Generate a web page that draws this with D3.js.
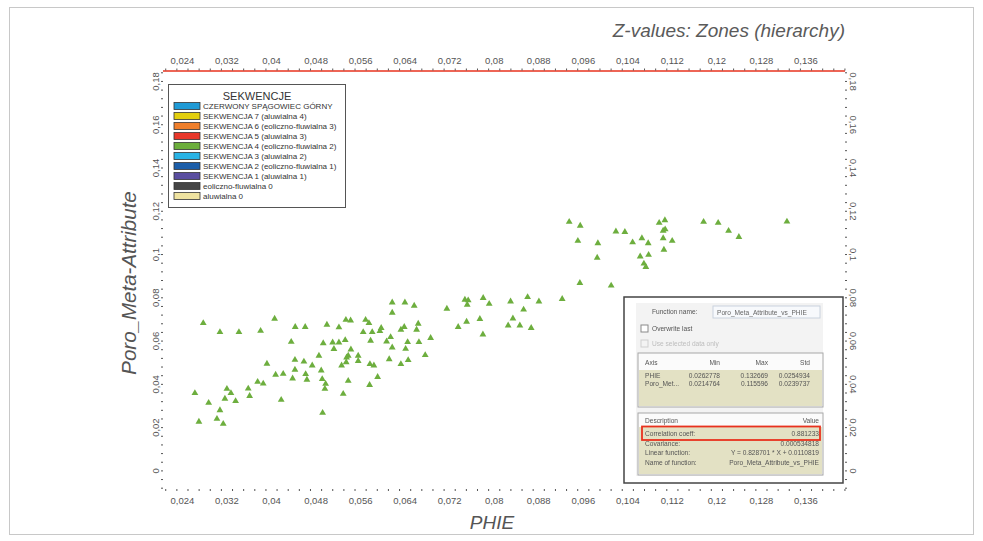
<!DOCTYPE html>
<html>
<head>
<meta charset="utf-8">
<script src="https://cdn.jsdelivr.net/npm/d3@7"></script>
<style>
  body { margin: 0; background: #fff; }
  text { font-family: "Liberation Sans", Arial, sans-serif; }
</style>
</head>
<body>
<svg id="chart" width="983" height="541"></svg>
<script>
// ---- data: PHIE vs Poro_Meta-Attribute (samples of SEKWENCJA 4) ----
const phie = [
  0.02783,0.03083,0.03424,0.03813,0.04065,0.04435,0.04614,0.05004,0.05220,0.05345,
  0.05430,0.04363,0.04938,0.05107,0.05220,0.05333,0.05130,0.05435,0.04861,0.05387,
  0.05358,0.05566,0.04430,0.04591,0.04740,0.05351,0.05566,0.05268,0.03927,0.04430,
  0.04902,0.04083,0.04219,0.04622,0.04388,0.04645,0.04920,0.04981,0.05387,0.04968,
  0.03760,0.03860,0.03591,0.03208,0.03280,0.02633,0.03616,0.03172,0.03364,0.02880,
  0.04183,0.05297,0.03083,0.04927,0.02705,0.03029,0.03142,
  0.09548,0.09230,0.08812,0.08609,0.08303,0.08537,0.08345,0.08260,0.08470,0.08673,
  0.07919,0.07811,0.07483,0.07542,0.07524,0.07159,0.07752,0.07513,0.07362,0.07806,
  0.06177,0.06405,0.06572,0.06177,0.05699,0.05759,0.05979,0.05956,0.05818,0.05656,
  0.06393,0.06333,0.06644,0.06615,0.06148,0.06076,0.05789,0.06177,0.06454,0.06657,
  0.06867,0.06418,0.06123,0.06464,0.06770,0.06333,0.05777,0.05848,0.05915,0.05771,
  0.09356,0.09554,0.09512,0.09871,0.09859,0.10195,0.10356,0.10495,0.10662,0.10775,
  0.10972,0.11075,0.11080,0.11044,0.11044,0.11206,0.11057,0.10631,0.10782,0.10698,
  0.10733,0.11770,0.12032,0.12219,0.12404,0.13267,0.10110
];
const poro = [
  0.0681,0.0639,0.0639,0.0645,0.0701,0.0663,0.0663,0.0673,0.0661,0.0696,
  0.0693,0.0594,0.0588,0.0591,0.0591,0.0602,0.0561,0.0559,0.0530,0.0530,
  0.0522,0.0530,0.0511,0.0503,0.0485,0.0500,0.0506,0.0485,0.0493,0.0465,
  0.0462,0.0442,0.0446,0.0445,0.0425,0.0419,0.0422,0.0400,0.0414,0.0377,
  0.0409,0.0401,0.0378,0.0377,0.0357,0.0357,0.0344,0.0331,0.0320,0.0312,
  0.0326,0.0354,0.0278,0.0266,0.0225,0.0238,0.0215,
  0.0866,0.0792,0.0781,0.0801,0.0781,0.0743,0.0702,0.0670,0.0670,0.0658,
  0.0770,0.0797,0.0789,0.0786,0.0766,0.0747,0.0700,0.0687,0.0663,0.0628,
  0.0776,0.0776,0.0761,0.0729,0.0696,0.0681,0.0658,0.0644,0.0639,0.0639,
  0.0663,0.0650,0.0678,0.0650,0.0616,0.0596,0.0599,0.0568,0.0593,0.0593,
  0.0612,0.0562,0.0514,0.0510,0.0533,0.0491,0.0491,0.0485,0.0432,0.0395,
  0.1149,0.1131,0.1061,0.1050,0.0983,0.1104,0.1102,0.1054,0.1073,0.1050,
  0.1144,0.1156,0.1114,0.1108,0.1073,0.1061,0.1020,0.0989,0.0996,0.0956,
  0.0940,0.1149,0.1144,0.1107,0.1079,0.1150,0.0854
];

const xTicks = [0.024,0.032,0.04,0.048,0.056,0.064,0.072,0.08,0.088,0.096,0.104,0.112,0.12,0.128,0.136];
const yTicks = [0,0.02,0.04,0.06,0.08,0.1,0.12,0.14,0.16,0.18];
const xDomain = [0.0206, 0.1431];
const yDomain = [-0.0086, 0.1846];

const legendTitle = "SEKWENCJE";
const legendLabels = [
  "CZERWONY SPĄGOWIEC GÓRNY",
  "SEKWENCJA 7 (aluwialna 4)",
  "SEKWENCJA 6 (eoliczno-fluwialna 3)",
  "SEKWENCJA 5 (aluwialna 3)",
  "SEKWENCJA 4 (eoliczno-fluwialna 2)",
  "SEKWENCJA 3 (aluwialna 2)",
  "SEKWENCJA 2 (eoliczno-fluwialna 1)",
  "SEKWENCJA 1 (aluwialna 1)",
  "eoliczno-fluwialna 0",
  "aluwialna 0"
];
const legendColors = ["#1f9ad6","#e3cf0e","#ef7f2c","#e8382b","#6cae3c","#29b3e5","#1c5ea9","#5a4ea0","#454545","#efe3a0"];

// statistics panel of the linear fit
const fitName = "Poro_Meta_Attribute_vs_PHIE";
const statHeader = ["Axis","Min","Max","Std"];
const statAxis = ["PHIE","Poro_Met..."];
const statMin = ["0.0262778","0.0214764"];
const statMax = ["0.132669","0.115596"];
const statStd = ["0.0254934","0.0239737"];
const fitLabels = ["Correlation coeff:","Covariance:","Linear function:","Name of function:"];
const fitValues = ["0.881233","0.000534818","Y = 0.828701 * X + 0.0110819","Poro_Meta_Attribute_vs_PHIE"];

// ---- layout ----
const svg = d3.select("#chart");
const plot = {left: 163, right: 845, top: 71, bottom: 489};

const x = d3.scaleLinear().domain(xDomain).range([plot.left, plot.right]);
const y = d3.scaleLinear().domain(yDomain).range([plot.bottom, plot.top]);
const fmt = v => d3.format("~g")(v).replace(".", ",");

const defs = svg.append("defs");
defs.append("filter").attr("id","soft")
  .append("feGaussianBlur").attr("stdDeviation",0.35);

// outer frame
svg.append("rect").attr("x",9.5).attr("y",7.5).attr("width",964).attr("height",527)
  .attr("fill","none").attr("stroke","#c8c8c8").attr("stroke-width",1);

// title
svg.append("text").attr("x",845).attr("y",37).attr("text-anchor","end")
  .attr("font-size",19).attr("font-style","italic").attr("fill","#5a5a5a")
  .text("Z-values: Zones (hierarchy)");

// top red axis line
svg.append("line").attr("x1",plot.left).attr("x2",plot.right)
  .attr("y1",plot.top).attr("y2",plot.top)
  .attr("stroke","#e8321e").attr("stroke-width",1.6);

// minor tick dots
const xMinor = d3.range(0.021, 0.1431, 0.002);
const yMinor = d3.range(-0.008, 0.1846, 0.004);
function styleMinor(g) {
  g.select(".domain").remove();
  g.selectAll(".tick line").attr("stroke","#555").attr("stroke-width",1);
  g.selectAll(".tick text").remove();
}
svg.append("g").attr("transform",`translate(0,${plot.bottom})`)
  .call(d3.axisBottom(x).tickValues(xMinor).tickSize(2)).call(styleMinor);
svg.append("g").attr("transform",`translate(0,${plot.top - 0.5})`)
  .call(d3.axisTop(x).tickValues(xMinor).tickSize(2)).call(styleMinor);
svg.append("g").attr("transform",`translate(${plot.left},0)`)
  .call(d3.axisLeft(y).tickValues(yMinor).tickSize(2)).call(styleMinor);
svg.append("g").attr("transform",`translate(${plot.right},0)`)
  .call(d3.axisRight(y).tickValues(yMinor).tickSize(2)).call(styleMinor);

// labelled axes
function styleLabels(g) {
  g.select(".domain").remove();
  g.selectAll(".tick line").remove();
  g.selectAll(".tick text").attr("fill","#555").attr("font-size",9.5)
    .attr("font-family","Liberation Sans, Arial, sans-serif");
}
svg.append("g").attr("transform",`translate(0,${plot.bottom})`)
  .call(d3.axisBottom(x).tickValues(xTicks).tickSize(0).tickPadding(8).tickFormat(fmt))
  .call(styleLabels);
svg.append("g").attr("transform",`translate(0,${plot.top})`)
  .call(d3.axisTop(x).tickValues(xTicks).tickSize(0).tickPadding(7).tickFormat(fmt))
  .call(styleLabels);
svg.append("g").attr("transform",`translate(${plot.left},0)`)
  .call(d3.axisLeft(y).tickValues(yTicks).tickSize(0).tickFormat(fmt))
  .call(styleLabels)
  .call(g => g.selectAll(".tick text")
    .attr("x",null).attr("dy",null).attr("text-anchor","middle")
    .attr("transform","translate(-4.5,0) rotate(-90)"));
svg.append("g").attr("transform",`translate(${plot.right},0)`)
  .call(d3.axisRight(y).tickValues(yTicks).tickSize(0).tickFormat(fmt))
  .call(styleLabels)
  .call(g => g.selectAll(".tick text")
    .attr("x",null).attr("dy",null).attr("text-anchor","middle")
    .attr("transform","translate(4.5,0) rotate(90)"));

// axis titles
svg.append("text").attr("x",492).attr("y",529).attr("text-anchor","middle")
  .attr("font-size",19).attr("font-style","italic").attr("fill","#555").text("PHIE");
svg.append("text").attr("transform","translate(136,283) rotate(-90)")
  .attr("text-anchor","middle").attr("font-size",20.5).attr("font-style","italic")
  .attr("fill","#555").text("Poro_Meta-Attribute");

// scatter points
const points = phie.map((v, i) => ({x: v, y: poro[i]}));
svg.append("g").selectAll("path").data(points).join("path")
  .attr("transform", d => `translate(${x(d.x)},${y(d.y)})`)
  .attr("d", d3.symbol(d3.symbolTriangle, 20))
  .attr("fill","#6dae3e");

// legend
const lg = svg.append("g").attr("class","legend");
lg.append("rect").attr("x",168.5).attr("y",84.5).attr("width",177).attr("height",123)
  .attr("fill","#fff").attr("stroke","#555").attr("stroke-width",1);
lg.append("text").attr("x",257).attr("y",100).attr("text-anchor","middle")
  .attr("font-size",11).attr("fill","#333").text(legendTitle);
const rows = lg.selectAll("g.row").data(legendLabels).join("g")
  .attr("transform",(d,i)=>`translate(0,${106 + i*10})`);
rows.append("rect").attr("x",174).attr("y",-3.5).attr("width",26).attr("height",7)
  .attr("fill",(d,i)=>legendColors[i]).attr("stroke","#333").attr("stroke-width",0.8);
rows.append("text").attr("x",203).attr("y",3).attr("font-size",8)
  .attr("fill","#333").text(d=>d);

// fit statistics panel
const ins = svg.append("g").attr("class","fit-panel");
ins.append("rect").attr("x",624).attr("y",297).attr("width",219).attr("height",186)
  .attr("fill","#fff").attr("stroke","#444").attr("stroke-width",1.5);
const body = ins.append("g").attr("filter","url(#soft)");
body.append("rect").attr("x",636).attr("y",303).attr("width",187).attr("height",173).attr("fill","#f3f3f3");
const txt = (xx, yy, s, opts={}) => body.append("text").attr("x",xx).attr("y",yy)
  .attr("font-size",opts.size||6.6).attr("fill",opts.fill||"#555")
  .attr("text-anchor",opts.anchor||"start").text(s);
txt(652,314,"Function name:");
body.append("rect").attr("x",713).attr("y",306).attr("width",107).attr("height",12)
  .attr("fill","#f7f9fc").attr("stroke","#c9d2de");
txt(717,314.5,fitName,{fill:"#666"});
body.append("rect").attr("x",641).attr("y",325).attr("width",7).attr("height",7)
  .attr("fill","#fff").attr("stroke","#8a8a8a");
txt(652,331,"Overwrite last");
body.append("rect").attr("x",641).attr("y",340).attr("width",7).attr("height",7)
  .attr("fill","#f3f3f3").attr("stroke","#cfcfcf");
txt(652,346,"Use selected data only",{fill:"#bdbdbd"});

// table of axis statistics
body.append("rect").attr("x",638).attr("y",353).attr("width",185).attr("height",54)
  .attr("fill","#fbfbfb").attr("stroke","#a8a8a8");
body.append("rect").attr("x",639).attr("y",370).attr("width",183).attr("height",36).attr("fill","#e3e1c4");
const colX = [645,720,768,810];
statHeader.forEach((h,i)=>txt(colX[i],365,h,{anchor:i?"end":"start"}));
statAxis.forEach((a,r)=>{
  const yy = 377.5 + r*8;
  txt(colX[0],yy,a);
  txt(colX[1],yy,statMin[r],{anchor:"end"});
  txt(colX[2],yy,statMax[r],{anchor:"end"});
  txt(colX[3],yy,statStd[r],{anchor:"end"});
});

// table of fit results
body.append("rect").attr("x",638).attr("y",413).attr("width",185).attr("height",62)
  .attr("fill","#fbfbfb").attr("stroke","#a8a8a8");
body.append("rect").attr("x",639).attr("y",427).attr("width",183).attr("height",47).attr("fill","#e3e1c4");
txt(645,423,"Description");
txt(819,423,"Value",{anchor:"end"});
fitLabels.forEach((l,r)=>{
  const yy = [436,445.5,455,464.5][r];
  txt(645,yy,l);
  txt(819,yy,fitValues[r],{anchor:"end"});
});
ins.append("rect").attr("x",642).attr("y",426.5).attr("width",178).attr("height",13.5)
  .attr("fill","none").attr("stroke","#e8321e").attr("stroke-width",1.8);
</script>
</body>
</html>
